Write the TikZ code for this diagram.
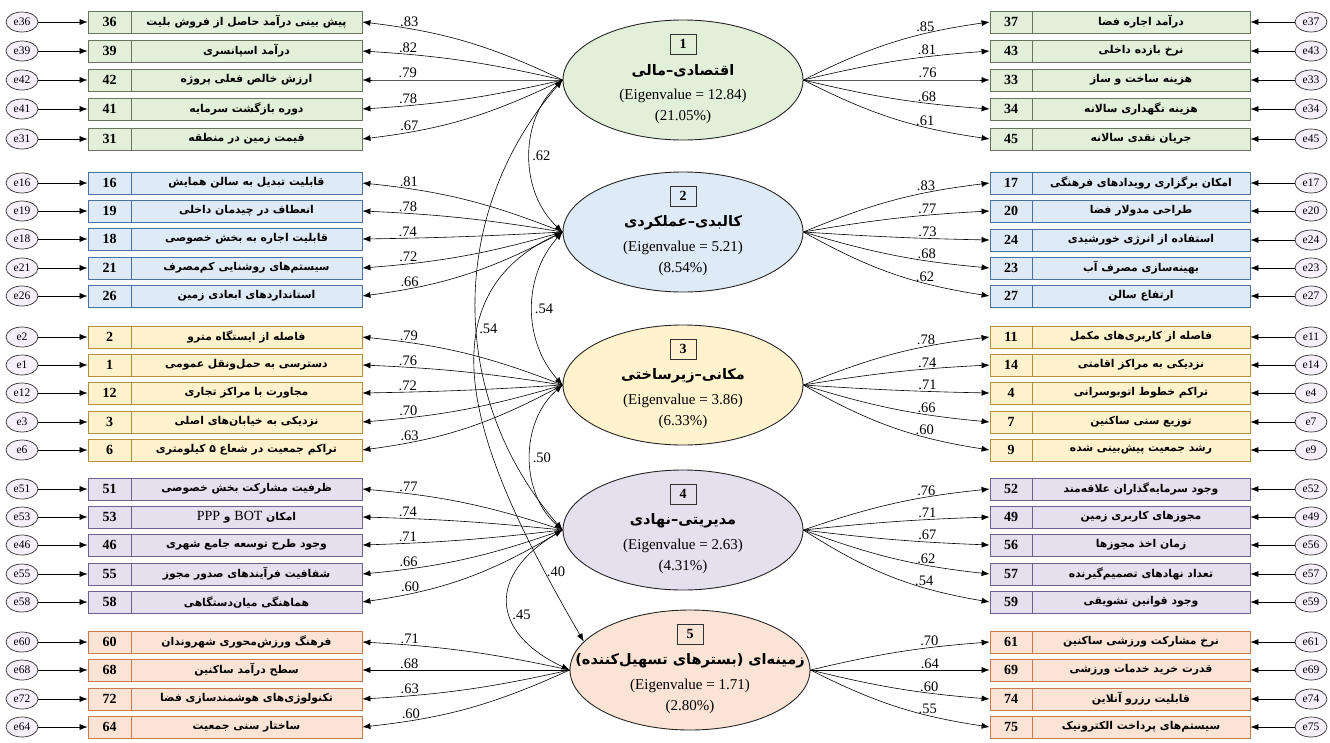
\documentclass[tikz,border=0pt]{standalone}
\usepackage{fontspec}
\setmainfont{Liberation Serif}
\newfontfamily\fa[Script=Arabic]{DejaVu Sans}
\TeXXeTstate=1
\usetikzlibrary{arrows.meta,shapes.geometric}

\definecolor{ecofill}{HTML}{E2EFD9}
\definecolor{ecoline}{HTML}{66755A}
\definecolor{phyfill}{HTML}{DEEAF6}
\definecolor{phyline}{HTML}{4A72A0}
\definecolor{spafill}{HTML}{FFF2CC}
\definecolor{spaline}{HTML}{B48E3C}
\definecolor{manfill}{HTML}{E5E0EE}
\definecolor{manline}{HTML}{6E6090}
\definecolor{ctxfill}{HTML}{FBE4D5}
\definecolor{ctxline}{HTML}{C87A4E}
\definecolor{errfill}{HTML}{F4EFF9}

\tikzset{
  ecogrp/.style={fill=ecofill, draw=ecoline},
  phygrp/.style={fill=phyfill, draw=phyline},
  spagrp/.style={fill=spafill, draw=spaline},
  mangrp/.style={fill=manfill, draw=manline},
  ctxgrp/.style={fill=ctxfill, draw=ctxline},
  errc/.style={ellipse, draw=black!80, fill=errfill, line width=0.7pt, minimum width=32, minimum height=20, inner sep=0, font=\fontsize{11.5}{11.5}\selectfont},
  numcell/.style={rectangle, minimum width=43, minimum height=22, inner sep=0, line width=0.8pt, font=\bfseries\fontsize{14}{14}\selectfont},
  txtcell/.style={rectangle, minimum height=22, inner sep=0, line width=0.8pt, font=\fa\bfseries\fontsize{10.8}{12}\selectfont},
  fac/.style={ellipse, minimum width=240, minimum height=120, inner sep=0, line width=0.9pt},
  facnum/.style={rectangle, minimum width=26, minimum height=20, inner sep=0, line width=0.8pt, font=\bfseries\fontsize{14}{14}\selectfont},
  factitle/.style={inner sep=0, font=\fa\bfseries\fontsize{14.5}{16}\selectfont},
  faceig/.style={inner sep=0, font=\fontsize{15}{15}\selectfont},
  arr/.style={-{Latex[length=8pt,width=6pt]}, line width=0.6pt},
  cor/.style={{Latex[length=8pt,width=6pt]}-{Latex[length=8pt,width=6pt]}, line width=0.6pt},
  load/.style={above, inner sep=1.5pt, font=\fontsize{14.5}{14.5}\selectfont},
  corlbl/.style={right, inner sep=2pt, font=\fontsize{14.5}{14.5}\selectfont}
}

% factor: name, x, y, number, title, eigenvalue, percent, group
\newcommand{\factor}[8]{%
  \node[fac,#8,draw=black!85] (#1) at (#2,#3) {};
  \node[facnum,#8,draw=black!80] (#1n) at (#2,#3-36) {#4};
  \node[factitle] (#1t) at (#2,#3-9) {#5};
  \node[faceig] (#1v) at (#2,#3+16) {(Eigenvalue = #6)};
  \node[faceig] (#1p) at (#2,#3+37) {(#7\%)};
}
% left item: id, y, text, loading, factor, factor y, group
\newcommand{\leftrow}[7]{%
  \node[errc] (e#1) at (22,#2) {e#1};
  \node[numcell,#7] (n#1) at (109.5,#2) {#1};
  \node[txtcell,#7,minimum width=231] (t#1) at (246.5,#2) {#3};
  \draw[arr] (e#1) -- (n#1);
  \pgfmathsetmacro\bnd{0.16*(#6-#2)}
  \pgfmathsetmacro\bout{-\bnd}
  \pgfmathsetmacro\bin{180+\bnd}
  \draw[arr] (#5.west) to[out=\bout,in=\bin,relative] node[load,pos=0.79] (l#1) {#4} (t#1.east);
}
% right item: id, y, text, loading, factor, factor y, group
\newcommand{\rightrow}[7]{%
  \node[errc] (e#1) at (1311,#2) {e#1};
  \node[numcell,#7,minimum width=42] (n#1) at (1011,#2) {#1};
  \node[txtcell,#7,minimum width=218] (t#1) at (1141,#2) {#3};
  \draw[arr] (e#1) -- (t#1);
  \pgfmathsetmacro\bnd{0.16*(#6-#2)}
  \pgfmathsetmacro\bin{180-\bnd}
  \draw[arr] (#5.east) to[out=\bnd,in=\bin,relative] node[load,pos=0.68] (l#1) {#4} (n#1.west);
}

\begin{document}
\begin{tikzpicture}[x=1pt,y=-1pt]
\useasboundingbox (0,0) rectangle (1330,742);

% the five factors
\factor{f1}{683}{80}{1}{\beginR اقتصادی–مالی\endR}{12.84}{21.05}{ecogrp}
\factor{f2}{683}{232}{2}{\beginR کالبدی–عملکردی\endR}{5.21}{8.54}{phygrp}
\factor{f3}{683}{385}{3}{\beginR مکانی–زیرساختی\endR}{3.86}{6.33}{spagrp}
\factor{f4}{683}{530}{4}{\beginR مدیریتی–نهادی\endR}{2.63}{4.31}{mangrp}
\factor{f5}{690}{670}{5}{\beginR زمینه^^^^200cای (بسترهای تسهیل^^^^200cکننده)\endR}{1.71}{2.80}{ctxgrp}

% factor 1, economic
\leftrow{36}{22}{\beginR پیش بینی درآمد حاصل از فروش بلیت\endR}{.83}{f1}{80}{ecogrp}
\leftrow{39}{51}{\beginR درآمد اسپانسری\endR}{.82}{f1}{80}{ecogrp}
\leftrow{42}{80}{\beginR ارزش خالص فعلی پروژه\endR}{.79}{f1}{80}{ecogrp}
\leftrow{41}{109}{\beginR دوره بازگشت سرمایه\endR}{.78}{f1}{80}{ecogrp}
\leftrow{31}{139}{\beginR قیمت زمین در منطقه\endR}{.67}{f1}{80}{ecogrp}
\rightrow{37}{22}{\beginR درآمد اجاره فضا\endR}{.85}{f1}{80}{ecogrp}
\rightrow{43}{51}{\beginR نرخ بازده داخلی\endR}{.81}{f1}{80}{ecogrp}
\rightrow{33}{80}{\beginR هزینه ساخت و ساز\endR}{.76}{f1}{80}{ecogrp}
\rightrow{34}{109}{\beginR هزینه نگهداری سالانه\endR}{.68}{f1}{80}{ecogrp}
\rightrow{45}{139}{\beginR جریان نقدی سالانه\endR}{.61}{f1}{80}{ecogrp}

% factor 2, physical
\leftrow{16}{183}{\beginR قابلیت تبدیل به سالن همایش\endR}{.81}{f2}{232}{phygrp}
\leftrow{19}{211}{\beginR انعطاف در چیدمان داخلی\endR}{.78}{f2}{232}{phygrp}
\leftrow{18}{239}{\beginR قابلیت اجاره به بخش خصوصی\endR}{.74}{f2}{232}{phygrp}
\leftrow{21}{268}{\beginR سیستم^^^^200cهای روشنایی کم^^^^200cمصرف\endR}{.72}{f2}{232}{phygrp}
\leftrow{26}{296}{\beginR استانداردهای ابعادی زمین\endR}{.66}{f2}{232}{phygrp}
\rightrow{17}{183}{\beginR امکان برگزاری رویدادهای فرهنگی\endR}{.83}{f2}{232}{phygrp}
\rightrow{20}{211}{\beginR طراحی مدولار فضا\endR}{.77}{f2}{232}{phygrp}
\rightrow{24}{240}{\beginR استفاده از انرژی خورشیدی\endR}{.73}{f2}{232}{phygrp}
\rightrow{23}{268}{\beginR بهینه^^^^200cسازی مصرف آب\endR}{.68}{f2}{232}{phygrp}
\rightrow{27}{296}{\beginR ارتفاع سالن\endR}{.62}{f2}{232}{phygrp}

% factor 3, spatial
\leftrow{2}{337}{\beginR فاصله از ایستگاه مترو\endR}{.79}{f3}{385}{spagrp}
\leftrow{1}{365}{\beginR دسترسی به حمل^^^^200cونقل عمومی\endR}{.76}{f3}{385}{spagrp}
\leftrow{12}{393}{\beginR مجاورت با مراکز تجاری\endR}{.72}{f3}{385}{spagrp}
\leftrow{3}{422}{\beginR نزدیکی به خیابان^^^^200cهای اصلی\endR}{.70}{f3}{385}{spagrp}
\leftrow{6}{450}{\beginR تراکم جمعیت در شعاع ۵ کیلومتری\endR}{.63}{f3}{385}{spagrp}
\rightrow{11}{337}{\beginR فاصله از کاربری^^^^200cهای مکمل\endR}{.78}{f3}{385}{spagrp}
\rightrow{14}{365}{\beginR نزدیکی به مراکز اقامتی\endR}{.74}{f3}{385}{spagrp}
\rightrow{4}{393}{\beginR تراکم خطوط اتوبوسرانی\endR}{.71}{f3}{385}{spagrp}
\rightrow{7}{422}{\beginR توزیع سنی ساکنین\endR}{.66}{f3}{385}{spagrp}
\rightrow{9}{450}{\beginR رشد جمعیت پیش^^^^200cبینی شده\endR}{.60}{f3}{385}{spagrp}

% factor 4, management
\leftrow{51}{489}{\beginR ظرفیت مشارکت بخش خصوصی\endR}{.77}{f4}{530}{mangrp}
\leftrow{53}{517}{\beginR امکان \beginL{\rmfamily\mdseries\fontsize{14}{14}\selectfont BOT}\endL{} و \beginL{\rmfamily\mdseries\fontsize{14}{14}\selectfont PPP}\endL\endR}{.74}{f4}{530}{mangrp}
\leftrow{46}{545}{\beginR وجود طرح توسعه جامع شهری\endR}{.71}{f4}{530}{mangrp}
\leftrow{55}{574}{\beginR شفافیت فرآیندهای صدور مجوز\endR}{.66}{f4}{530}{mangrp}
\leftrow{58}{602}{\beginR هماهنگی میان^^^^200cدستگاهی\endR}{.60}{f4}{530}{mangrp}
\rightrow{52}{489}{\beginR وجود سرمایه^^^^200cگذاران علاقه^^^^200cمند\endR}{.76}{f4}{530}{mangrp}
\rightrow{49}{517}{\beginR مجوزهای کاربری زمین\endR}{.71}{f4}{530}{mangrp}
\rightrow{56}{545}{\beginR زمان اخذ مجوزها\endR}{.67}{f4}{530}{mangrp}
\rightrow{57}{574}{\beginR تعداد نهادهای تصمیم^^^^200cگیرنده\endR}{.62}{f4}{530}{mangrp}
\rightrow{59}{602}{\beginR وجود قوانین تشویقی\endR}{.54}{f4}{530}{mangrp}

% factor 5, context
\leftrow{60}{642}{\beginR فرهنگ ورزش^^^^200cمحوری شهروندان\endR}{.71}{f5}{670}{ctxgrp}
\leftrow{68}{670}{\beginR سطح درآمد ساکنین\endR}{.68}{f5}{670}{ctxgrp}
\leftrow{72}{699}{\beginR تکنولوژی^^^^200cهای هوشمندسازی فضا\endR}{.63}{f5}{670}{ctxgrp}
\leftrow{64}{727}{\beginR ساختار سنی جمعیت\endR}{.60}{f5}{670}{ctxgrp}
\rightrow{61}{642}{\beginR نرخ مشارکت ورزشی ساکنین\endR}{.70}{f5}{670}{ctxgrp}
\rightrow{69}{670}{\beginR قدرت خرید خدمات ورزشی\endR}{.64}{f5}{670}{ctxgrp}
\rightrow{74}{699}{\beginR قابلیت رزرو آنلاین\endR}{.60}{f5}{670}{ctxgrp}
\rightrow{75}{727}{\beginR سیستم^^^^200cهای پرداخت الکترونیک\endR}{.55}{f5}{670}{ctxgrp}

% correlations between factors
\draw[cor] (f1.west) to[bend right=47] node[corlbl] (c12) {.62} (f2.west);
\draw[cor] (f2.west) to[bend right=42] node[corlbl] (c23) {.54} (f3.west);
\draw[cor] (f1.west) to[bend right=41] node[corlbl,pos=0.55] (c14) {.54} (f4.west);
\draw[cor] (f3.west) to[bend right=49] node[corlbl] (c34) {.50} (f4.west);
\draw[cor] (f2.west) to[out=205,in=120,looseness=1.1] node[corlbl,pos=0.85] (c25) {.40} (f5.165);
\draw[cor] (f4.west) to[bend right=62,looseness=1.6] node[corlbl,pos=0.58] (c45) {.45} (f5.west);
\end{tikzpicture}
\end{document}
